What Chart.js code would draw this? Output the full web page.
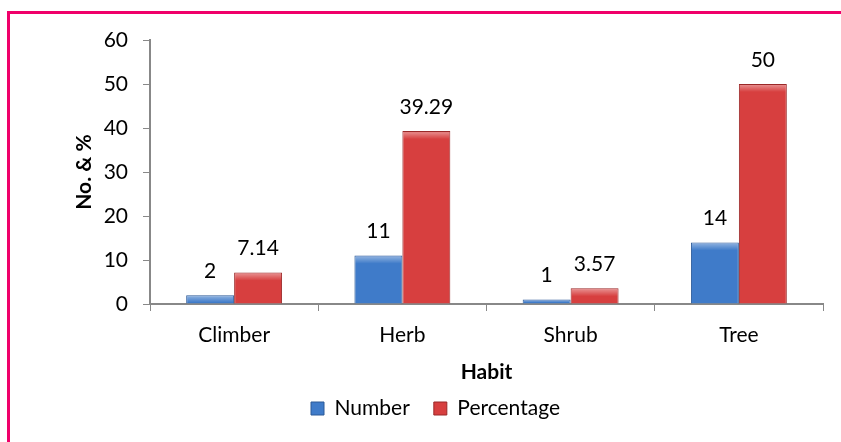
<!DOCTYPE html>
<html>
<head>
<meta charset="utf-8">
<script src="https://cdn.jsdelivr.net/npm/chart.js@4"></script>
<style>
html,body{margin:0;padding:0;background:#fff;}
#wrap{position:relative;width:841px;height:442px;overflow:hidden;}
#frame{position:absolute;left:7px;top:11px;right:-10px;bottom:-10px;border-left:3px solid #F0006A;border-top:3px solid #F0006A;}
canvas{position:absolute;left:0;top:0;}
</style>
</head>
<body>
<div id="wrap">
<div id="frame"></div>
<canvas id="c" width="841" height="442"></canvas>
</div>
<script>
const categories = ["Climber", "Herb", "Shrub", "Tree"];
const numberValues = [2, 11, 1, 14];
const percentageValues = [7.14, 39.29, 3.57, 50];
const seriesNames = ["Number", "Percentage"];
const yTitle = "No. & %";
const xTitle = "Habit";

const FONT = "Lato, 'Open Sans', sans-serif";
const FS = 21;

function bevelFill(base, dark) {
  return function(context) {
    const chart = context.chart;
    const el = context.element;
    if (!el || !chart.chartArea || !isFinite(el.x) || !isFinite(el.width) || !el.width) return base;
    const w = el.width;
    const g = chart.ctx.createLinearGradient(el.x - w / 2, 0, el.x + w / 2, 0);
    g.addColorStop(0, dark);
    g.addColorStop(0.08, base);
    g.addColorStop(0.92, base);
    g.addColorStop(1, dark);
    return g;
  };
}

const labelPlugin = {
  id: 'valueLabels',
  afterLayout(chart) {
    const lg = chart.legend;
    if (lg) { lg.left += 24; lg.right += 24; lg.top -= 11; lg.bottom -= 11; }
  },
  afterDatasetsDraw(chart) {
    const ctx = chart.ctx;
    ctx.save();
    ctx.font = FS + "px " + FONT;
    ctx.textAlign = "center";
    ctx.textBaseline = "middle";
    chart.data.datasets.forEach((ds, di) => {
      const meta = chart.getDatasetMeta(di);
      meta.data.forEach((el, i) => {
        if (!isFinite(el.y) || !isFinite(el.x)) return;
        const top = el.y, left = el.x - el.width / 2;
        const h = Math.min(8, el.base - el.y - 1);
        if (h > 1) {
          const grad = ctx.createLinearGradient(0, top, 0, top + h);
          grad.addColorStop(0, "rgba(255,255,255,0.45)");
          grad.addColorStop(1, "rgba(255,255,255,0)");
          ctx.fillStyle = grad;
          ctx.fillRect(left + 1, top + 1, el.width - 2, h);
        }
        ctx.fillStyle = "#000";
        ctx.fillText(String(ds.data[i]), el.x, el.y - 24);
      });
    });
    ctx.restore();
  }
};

new Chart(document.getElementById("c"), {
  type: "bar",
  data: {
    labels: categories,
    datasets: [
      {
        label: seriesNames[0],
        data: numberValues,
        backgroundColor: bevelFill("#3F7BC9", "#2E5E9E"),
        borderColor: "#2C5A97",
        borderWidth: 1
      },
      {
        label: seriesNames[1],
        data: percentageValues,
        backgroundColor: bevelFill("#D73F3F", "#A52C2C"),
        borderColor: "#9A2828",
        borderWidth: 1
      }
    ]
  },
  options: {
    responsive: false,
    animation: false,
    devicePixelRatio: 1,
    layout: { padding: { left: 0, right: 18, top: 40, bottom: 2 } },
    datasets: { bar: { barPercentage: 1.0, categoryPercentage: 0.57 } },
    plugins: {
      legend: {
        position: "bottom",
        labels: {
          font: { family: FONT, size: FS },
          color: "#000",
          boxWidth: 13,
          boxHeight: 13,
          padding: 24,
          generateLabels(chart) {
            const cols = ["#3F7BC9", "#D73F3F"];
            const borders = ["#2C5A97", "#9A2828"];
            return chart.data.datasets.map((ds, i) => ({
              text: ds.label, fillStyle: cols[i], strokeStyle: borders[i], lineWidth: 1,
              datasetIndex: i, hidden: false, fontColor: "#000"
            }));
          }
        }
      },
      tooltip: { enabled: false }
    },
    scales: {
      x: {
        grid: { drawOnChartArea: false, drawTicks: true, tickLength: 7, color: "#888", offset: true },
        border: { display: true, color: "#888", width: 2 },
        ticks: { font: { family: FONT, size: FS }, color: "#000", padding: 12 },
        title: { display: true, text: xTitle, font: { family: FONT, size: FS, weight: "bold" }, color: "#000", padding: { top: 4, bottom: 0 } },
        afterFit(scale) { scale.height = 81; }
      },
      y: {
        min: 0, max: 60,
        ticks: { stepSize: 10, font: { family: FONT, size: FS }, color: "#000", padding: 15 },
        grid: { drawOnChartArea: false, drawTicks: true, tickLength: 7, color: "#888" },
        border: { display: true, color: "#888", width: 2 },
        title: { display: true, text: yTitle, font: { family: FONT, size: FS, weight: "bold" }, color: "#000", padding: { top: 72, bottom: 0 } },
        afterFit(scale) { scale.width = 150; }
      }
    }
  },
  plugins: [labelPlugin]
});
</script>
</body>
</html>
